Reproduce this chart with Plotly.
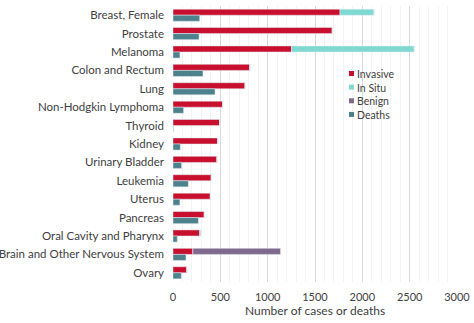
import plotly.graph_objects as go

# Cancer sites, listed top to bottom
sites = [
    "Breast, Female", "Prostate", "Melanoma", "Colon and Rectum", "Lung",
    "Non-Hodgkin Lymphoma", "Thyroid", "Kidney", "Urinary Bladder",
    "Leukemia", "Uterus", "Pancreas", "Oral Cavity and Pharynx",
    "Brain and Other Nervous System", "Ovary",
]

# New cases by behaviour, and deaths
invasive = [1764, 1683, 1252, 811, 762, 525, 493, 472, 465, 405, 395, 331, 282, 211, 147]
in_situ = [360, 0, 1296, 0, 0, 0, 0, 0, 0, 0, 0, 0, 14, 0, 0]
benign = [0, 0, 0, 0, 0, 0, 0, 0, 0, 0, 0, 0, 0, 925, 0]
deaths = [282, 275, 73, 317, 444, 112, 6, 77, 91, 162, 73, 268, 45, 137, 88]

series_names = ["Invasive", "In Situ", "Benign", "Deaths"]
series_colors = ["#c8102e", "#7fd9d1", "#7f6a8c", "#4d818b"]

x_ticks = [0, 500, 1000, 1500, 2000, 2500, 3000]

FONT = "Lato, 'Open Sans', sans-serif"
TEXT = "#404040"

W, H = 474, 323
ML, MR, MT, MB = 173, 17, 6, 41

fig = go.Figure()

fig.add_bar(y=sites, x=invasive, name=series_names[0], orientation="h",
            offsetgroup="cases", marker_color=series_colors[0])
fig.add_bar(y=sites, x=in_situ, base=invasive, name=series_names[1], orientation="h",
            offsetgroup="cases", marker_color=series_colors[1])
fig.add_bar(y=sites, x=benign, base=[i + s for i, s in zip(invasive, in_situ)],
            name=series_names[2], orientation="h",
            offsetgroup="cases", marker_color=series_colors[2])
fig.add_bar(y=sites, x=deaths, name=series_names[3], orientation="h",
            offsetgroup="deaths", marker_color=series_colors[3])

# Compact legend: small square swatches beside one multi-line label block
pw, ph = W - ML - MR, H - MT - MB
def px_x(px):
    return (px - ML) / pw
def px_y(py):
    return 1 - (py - MT) / ph

LEG_SIZE = 10.5
row_h = LEG_SIZE * 1.3
top_y = 73.5
for k, col in enumerate(series_colors):
    cy = top_y + k * row_h
    fig.add_shape(type="rect", xref="paper", yref="paper",
                  x0=px_x(349), x1=px_x(354), y0=px_y(cy + 2.5), y1=px_y(cy - 2.5),
                  fillcolor=col, line_width=0)
fig.add_annotation(x=px_x(355.5), y=px_y(top_y - row_h / 2), xref="paper", yref="paper",
                   text="<br>".join(series_names), showarrow=False, align="left",
                   xanchor="left", yanchor="top", borderpad=0,
                   font=dict(size=LEG_SIZE, color=TEXT, family=FONT))

fig.update_layout(
    width=W, height=H,
    margin=dict(l=ML, r=MR, t=MT, b=MB),
    paper_bgcolor="white", plot_bgcolor="white",
    barmode="group", bargap=0.34, bargroupgap=0,
    font=dict(family=FONT, color=TEXT, size=12),
    showlegend=False,
)

fig.update_xaxes(
    range=[0, 3000], tickvals=x_ticks, ticktext=[str(v) for v in x_ticks],
    showgrid=True, gridcolor="#d9d9d9", gridwidth=1,
    minor=dict(dtick=100, showgrid=True, gridcolor="#f3f3f3"),
    zeroline=False, showline=False, automargin=False,
    ticklabelstandoff=7,
    tickfont=dict(size=11, color=TEXT),
    title=dict(text="Number of cases or deaths", font=dict(size=12, color=TEXT), standoff=2),
)
fig.update_yaxes(
    autorange="reversed", showgrid=False, showline=False, zeroline=False,
    ticks="", ticklabelstandoff=8, automargin=False,
    tickfont=dict(size=11.5, color=TEXT),
)

fig.write_html("out.html")
